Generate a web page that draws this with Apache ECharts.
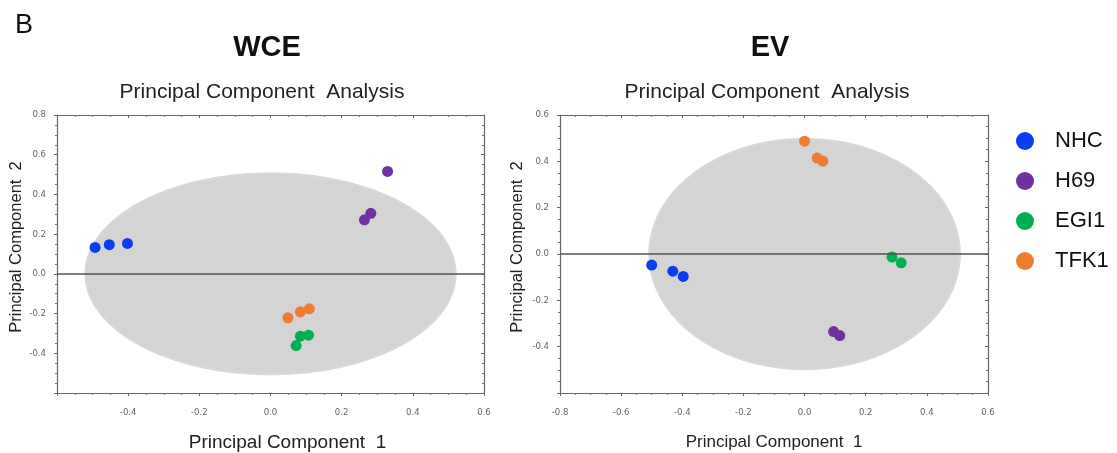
<!DOCTYPE html>
<html>
<head>
<meta charset="utf-8">
<script src="https://cdn.jsdelivr.net/npm/echarts@6/dist/echarts.min.js"></script>
<style>
  html, body { margin: 0; padding: 0; background: #fff; }
  #chart { width: 1117px; height: 453px; }
</style>
</head>
<body>
<div id="chart"></div>
<script>
// groups and colours
var groups = ['NHC', 'H69', 'EGI1', 'TFK1'];
var groupColors = ['#0a3cf2', '#7030a0', '#00b050', '#ed7d31'];

// WCE scores [PC1, PC2]
var wceNHC = [[-0.493, 0.133], [-0.453, 0.147], [-0.402, 0.153]];
var wceH69 = [[0.329, 0.516], [0.282, 0.305], [0.264, 0.272]];
var wceEGI1 = [[0.072, -0.361], [0.084, -0.314], [0.107, -0.309]];
var wceTFK1 = [[0.049, -0.221], [0.084, -0.191], [0.109, -0.176]];

// EV scores [PC1, PC2]
var evNHC = [[-0.500, -0.048], [-0.431, -0.074], [-0.397, -0.097]];
var evH69 = [[0.095, -0.335], [0.115, -0.352]];
var evEGI1 = [[0.286, -0.013], [0.316, -0.038]];
var evTFK1 = [[0.000, 0.487], [0.041, 0.414], [0.060, 0.401]];

// confidence ellipses [cx, cy, rx, ry]
var wceEllipse = [[0, 0, 0.52, 0.506]];
var evEllipse = [[0, 0, 0.508, 0.497]];

// axis ranges
var wceX = [-0.6, 0.6], wceY = [-0.6, 0.8];
var evX = [-0.8, 0.6], evY = [-0.6, 0.6];

var font = 'Liberation Sans, Arial, sans-serif';
var tickFont = 'Liberation Sans Narrow, DejaVu Sans Condensed, sans-serif';

function fmt(v) { return v.toFixed(1); }

function mainAxis(range, gridIndex, pos, name, nameGap, showMin, nameSize, namePad) {
  return {
    type: 'value', gridIndex: gridIndex, position: pos,
    min: range[0], max: range[1], interval: 0.2,
    name: name, nameLocation: 'middle', nameGap: nameGap,
    nameTextStyle: { fontFamily: font, fontSize: nameSize, color: '#222', padding: namePad || 0 },
    axisLine: { show: true, onZero: false, lineStyle: { color: '#666', width: 1.2 } },
    axisTick: { show: true, length: 3, lineStyle: { color: '#666' } },
    minorTick: { show: true, splitNumber: 4, length: 2, lineStyle: { color: '#777' } },
    axisLabel: { fontFamily: tickFont, fontSize: 9.5, color: '#666',
      margin: pos === 'bottom' ? 15 : 11,
      showMinLabel: showMin, formatter: fmt },
    splitLine: { show: false }
  };
}

function sideAxis(range, gridIndex, pos) {
  return {
    type: 'value', gridIndex: gridIndex, position: pos,
    min: range[0], max: range[1], interval: 0.2,
    axisLine: { show: true, onZero: false, lineStyle: { color: '#666', width: 1.2 } },
    axisTick: { show: true, inside: true, length: 3, lineStyle: { color: '#666' } },
    minorTick: { show: true, splitNumber: 4, length: 2, lineStyle: { color: '#777' } },
    axisLabel: { show: false },
    splitLine: { show: false }
  };
}

function ellipseSeries(data, xi, yi) {
  return {
    type: 'custom', xAxisIndex: xi, yAxisIndex: yi, z: 2, silent: true,
    data: data,
    renderItem: function (params, api) {
      var c = api.coord([api.value(0), api.value(1)]);
      var s = api.size([api.value(2), api.value(3)]);
      var pts = [];
      for (var i = 0; i < 180; i++) {
        var a = i / 180 * Math.PI * 2;
        pts.push([c[0] + s[0] * Math.cos(a), c[1] + s[1] * Math.sin(a)]);
      }
      return {
        type: 'polygon', shape: { points: pts },
        style: { fill: '#d4d4d4', stroke: '#d8d8d8', lineWidth: 2 }
      };
    }
  };
}

function zeroLine(xi, yi) {
  return {
    type: 'line', xAxisIndex: xi, yAxisIndex: yi, z: 1, data: [],
    markLine: {
      silent: true, symbol: 'none', label: { show: false },
      lineStyle: { color: '#555', width: 1.5, type: 'solid' },
      data: [{ yAxis: 0 }]
    }
  };
}

function scatter(name, data, xi, yi) {
  return {
    type: 'scatter', name: name, xAxisIndex: xi, yAxisIndex: yi, z: 3,
    symbolSize: 11, data: data,
    itemStyle: { color: groupColors[groups.indexOf(name)], opacity: 1 }
  };
}

var chart = echarts.init(document.getElementById('chart'));

var option = {
  backgroundColor: '#fff',
  animation: false,
  title: [
    { text: 'B', left: 10, top: 7, textStyle: { fontFamily: font, fontSize: 27, fontWeight: 'normal', color: '#111' } },
    { text: 'WCE', left: 262, top: 28, textAlign: 'center', textStyle: { fontFamily: font, fontSize: 29, fontWeight: 'bold', color: '#111' } },
    { text: 'EV', left: 765, top: 28, textAlign: 'center', textStyle: { fontFamily: font, fontSize: 29, fontWeight: 'bold', color: '#111' } },
    { text: 'Principal Component  Analysis', left: 257, top: 77, textAlign: 'center', textStyle: { fontFamily: font, fontSize: 21, fontWeight: 'normal', color: '#222' } },
    { text: 'Principal Component  Analysis', left: 762, top: 77, textAlign: 'center', textStyle: { fontFamily: font, fontSize: 21, fontWeight: 'normal', color: '#222' } }
  ],
  legend: {
    orient: 'vertical', left: 1011, top: 125,
    itemWidth: 18, itemHeight: 18, itemGap: 18,
    icon: 'circle',
    data: groups,
    textStyle: { fontFamily: font, fontSize: 22, color: '#111', padding: [0, 0, 0, 16] }
  },
  grid: [
    { left: 57, top: 115, width: 427, height: 278, outerBoundsMode: 'none' },
    { left: 560, top: 115, width: 428, height: 278, outerBoundsMode: 'none' }
  ],
  xAxis: [
    mainAxis(wceX, 0, 'bottom', 'Principal Component  1', 40, false, 19, [0, 0, 0, 34]),
    sideAxis(wceX, 0, 'top'),
    mainAxis(evX, 1, 'bottom', 'Principal Component  1', 41, true, 17),
    sideAxis(evX, 1, 'top')
  ],
  yAxis: [
    mainAxis(wceY, 0, 'left', 'Principal Component  2', 30, false, 16.5, [0, 0, 0, 14]),
    sideAxis(wceY, 0, 'right'),
    mainAxis(evY, 1, 'left', 'Principal Component  2', 34, false, 16.5, [0, 0, 0, 14]),
    sideAxis(evY, 1, 'right')
  ],
  series: [
    zeroLine(0, 0),
    ellipseSeries(wceEllipse, 0, 0),
    scatter('NHC', wceNHC, 0, 0),
    scatter('H69', wceH69, 0, 0),
    scatter('EGI1', wceEGI1, 0, 0),
    scatter('TFK1', wceTFK1, 0, 0),
    zeroLine(2, 2),
    ellipseSeries(evEllipse, 2, 2),
    scatter('NHC', evNHC, 2, 2),
    scatter('H69', evH69, 2, 2),
    scatter('EGI1', evEGI1, 2, 2),
    scatter('TFK1', evTFK1, 2, 2)
  ]
};

chart.setOption(option);
window.addEventListener('resize', function () {
  chart.resize();
});
</script>
</body>
</html>
